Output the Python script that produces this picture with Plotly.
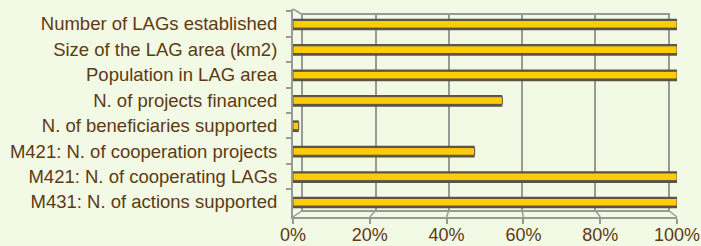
import plotly.graph_objects as go

categories = [
    "Number of LAGs established",
    "Size of the LAG area (km2)",
    "Population in LAG area",
    "N. of projects financed",
    "N. of beneficiaries supported",
    "M421: N. of cooperation projects",
    "M421: N. of cooperating LAGs",
    "M431: N. of actions supported",
]
values = [100, 100, 100, 54.5, 1.5, 47.3, 100, 100]
tick_vals = [0, 20, 40, 60, 80, 100]
tick_text = ["0%", "20%", "40%", "60%", "80%", "100%"]

BG = "#f2f9e4"
TXT = "#5e3a12"
GRID = "#9a9a94"
DARK = "#5a5446"
YEL = "#ffcc0a"

W, H = 701, 246
L, R, T, B = 293, 24, 9, 29
pw, ph = W - L - R, H - T - B

def fx(px):
    return (px - L) / pw

def fy(py):
    return (H - B - py) / ph

# back wall geometry (pixels) for the pseudo-3D look
BX0, BX1, BY0, BY1 = 303, 668, 15, 210

fig = go.Figure()

# back wall (grid) on first subplot
fig.add_trace(go.Bar(x=[0] * len(categories), y=categories, orientation="h",
                     xaxis="x", yaxis="y", marker_color="rgba(0,0,0,0)",
                     showlegend=False, hoverinfo="skip"))

# shadow (3D depth) bars and front bars on second subplot
fig.add_trace(go.Bar(x=values, y=categories, orientation="h", xaxis="x2", yaxis="y2",
                     width=0.46, offset=-0.21, marker_color=DARK,
                     marker_line_width=0, showlegend=False, hoverinfo="skip"))
fig.add_trace(go.Bar(x=values, y=categories, orientation="h", xaxis="x2", yaxis="y2",
                     width=0.3, offset=-0.14, marker_color=YEL,
                     marker_line_color=DARK, marker_line_width=1,
                     showlegend=False))

# floor / wall connector lines
shapes = []
for v in tick_vals:
    xf = v / 100
    xb = fx(BX0) + (fx(BX1) - fx(BX0)) * v / 100
    shapes.append(dict(type="line", xref="paper", yref="paper",
                       x0=xf, y0=0, x1=xb, y1=fy(BY1),
                       line=dict(color=GRID, width=1.5), layer="below"))
shapes.append(dict(type="line", xref="paper", yref="paper",
                   x0=0, y0=1, x1=fx(BX0), y1=fy(BY0),
                   line=dict(color=GRID, width=1.5), layer="below"))

fig.update_layout(
    template="none",
    width=W, height=H,
    margin=dict(l=L, r=R, t=T, b=B, pad=0),
    paper_bgcolor=BG, plot_bgcolor="rgba(0,0,0,0)",
    barmode="overlay",
    showlegend=False,
    shapes=shapes,
    font=dict(family="Liberation Sans, Arial", size=18.5, color=TXT),
    xaxis=dict(domain=[fx(BX0), fx(BX1)], range=[0, 100], anchor="y",
               tickvals=tick_vals, showticklabels=False, ticks="",
               showgrid=True, gridcolor=GRID, gridwidth=2, zeroline=False,
               showline=True, linecolor=GRID, linewidth=1.5, mirror=True,
               automargin=False, fixedrange=True),
    yaxis=dict(domain=[fy(BY1), fy(BY0)], anchor="x", categoryorder="array",
               categoryarray=categories, autorange="reversed",
               showticklabels=False, ticks="", showgrid=False, zeroline=False,
               showline=True, linecolor=GRID, linewidth=1.5, mirror=True,
               automargin=False, fixedrange=True),
    xaxis2=dict(domain=[0, 1], range=[0, 100], anchor="y2",
                tickvals=tick_vals, ticktext=tick_text,
                ticks="outside", ticklen=5, tickcolor=GRID, tickwidth=2,
                ticklabelstandoff=-5,
                showgrid=False, zeroline=False,
                showline=True, linecolor=GRID, linewidth=2,
                tickfont=dict(size=18, color=TXT),
                automargin=False, fixedrange=True),
    yaxis2=dict(domain=[0, 1], anchor="x2", categoryorder="array",
                categoryarray=categories, range=[7.59, -0.59],
                tickson="boundaries", ticks="outside", ticklen=5,
                tickcolor=GRID, tickwidth=2, ticklabelstandoff=10,
                showgrid=False, zeroline=False,
                showline=True, linecolor=GRID, linewidth=2,
                tickfont=dict(size=18.5, color=TXT),
                automargin=False, fixedrange=True),
)

fig.write_html(
    "out.html",
    config={"displayModeBar": False},
    post_script="document.body.style.margin='0';document.body.style.background='" + BG + "';",
)
